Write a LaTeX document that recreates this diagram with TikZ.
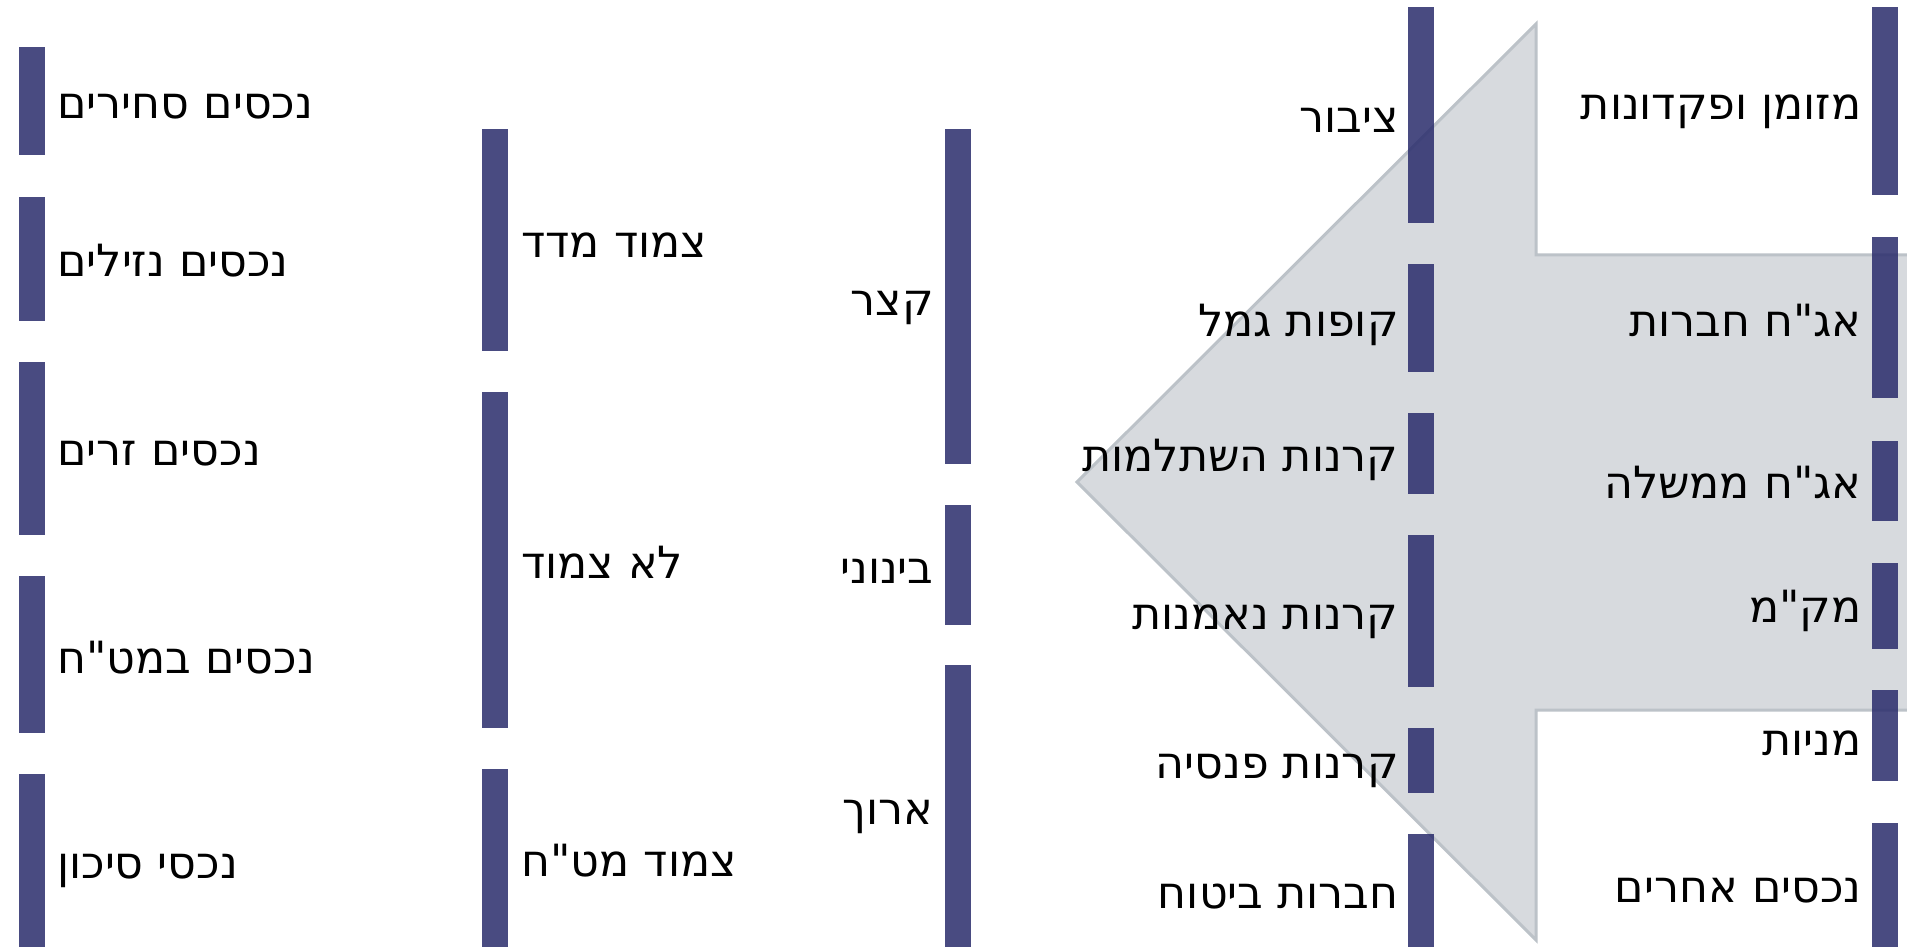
\documentclass[tikz,border=0pt]{standalone}
\usepackage{fontspec}
\newfontfamily\hebfont[Script=Hebrew]{DejaVu Sans}
\TeXXeTstate=1
\newcommand\hebtxt[1]{{\hebfont\beginR #1\endR}}
\definecolor{barc}{RGB}{42,44,108}
\definecolor{arrfill}{RGB}{215,218,222}
\definecolor{arrline}{RGB}{188,194,200}
\begin{document}
\begin{tikzpicture}[x=0.5pt,y=-0.5pt,
  bar/.style={fill=barc, fill opacity=0.85},
  lt/.style={anchor=base west, inner sep=0pt, font=\hebfont\fontsize{22.2}{26}\selectfont},
  rt/.style={anchor=base east, inner sep=0pt, font=\hebfont\fontsize{22.2}{26}\selectfont}]
\useasboundingbox (0,0) rectangle (1907,952);
\fill[white] (0,0) rectangle (1907,952);
% arrow
\draw[fill=arrfill, draw=arrline, line width=1.5pt, line join=miter]
  (1920,255) -- (1536,255) -- (1536,24) -- (1077,482) -- (1536,940) -- (1536,710) -- (1920,710);
% column 1
\fill[bar] (19,47) rectangle (45,155);
\fill[bar] (19,197) rectangle (45,321);
\fill[bar] (19,362) rectangle (45,535);
\fill[bar] (19,576) rectangle (45,733);
\fill[bar] (19,774) rectangle (45,947);
\node[lt] (a1) at (57,119) {\hebtxt{נכסים סחירים}};
\node[lt] (a2) at (57,277) {\hebtxt{נכסים נזילים}};
\node[lt] (a3) at (57,466) {\hebtxt{נכסים זרים}};
\node[lt] (a4) at (57,673) {\hebtxt{נכסים במט"ח}};
\node[lt] (a5) at (57,878) {\hebtxt{נכסי סיכון}};
% column 2
\fill[bar] (482,129) rectangle (508,351);
\fill[bar] (482,392) rectangle (508,728);
\fill[bar] (482,769) rectangle (508,947);
\node[lt] (b1) at (521,258) {\hebtxt{צמוד מדד}};
\node[lt] (b2) at (521,578) {\hebtxt{לא צמוד}};
\node[lt] (b3) at (521,876) {\hebtxt{צמוד מט"ח}};
% column 3
\fill[bar] (945,129) rectangle (971,464);
\fill[bar] (945,505) rectangle (971,625);
\fill[bar] (945,665) rectangle (971,947);
\node[rt] (c1) at (934,315) {\hebtxt{קצר}};
\node[rt] (c2) at (934,583) {\hebtxt{בינוני}};
\node[rt] (c3) at (934,824) {\hebtxt{ארוך}};
% column 4
\fill[bar] (1408,7) rectangle (1434,223);
\fill[bar] (1408,264) rectangle (1434,372);
\fill[bar] (1408,413) rectangle (1434,494);
\fill[bar] (1408,535) rectangle (1434,687);
\fill[bar] (1408,728) rectangle (1434,793);
\fill[bar] (1408,834) rectangle (1434,947);
\node[rt] (d1) at (1399,133) {\hebtxt{ציבור}};
\node[rt] (d2) at (1399,336) {\hebtxt{קופות גמל}};
\node[rt] (d3) at (1399,471) {\hebtxt{קרנות השתלמות}};
\node[rt] (d4) at (1399,629) {\hebtxt{קרנות נאמנות}};
\node[rt] (d5) at (1399,778) {\hebtxt{קרנות פנסיה}};
\node[rt] (d6) at (1399,908) {\hebtxt{חברות ביטוח}};
% column 5
\fill[bar] (1872,7) rectangle (1898,195);
\fill[bar] (1872,237) rectangle (1898,398);
\fill[bar] (1872,441) rectangle (1898,521);
\fill[bar] (1872,563) rectangle (1898,649);
\fill[bar] (1872,690) rectangle (1898,781);
\fill[bar] (1872,823) rectangle (1898,947);
\node[rt] (e1) at (1862,120) {\hebtxt{מזומן ופקדונות}};
\node[rt] (e2) at (1862,336) {\hebtxt{אג"ח חברות}};
\node[rt] (e3) at (1862,498) {\hebtxt{אג"ח ממשלה}};
\node[rt] (e4) at (1862,622) {\hebtxt{מק"מ}};
\node[rt] (e5) at (1862,755) {\hebtxt{מניות}};
\node[rt] (e6) at (1862,902) {\hebtxt{נכסים אחרים}};
\end{tikzpicture}
\end{document}
